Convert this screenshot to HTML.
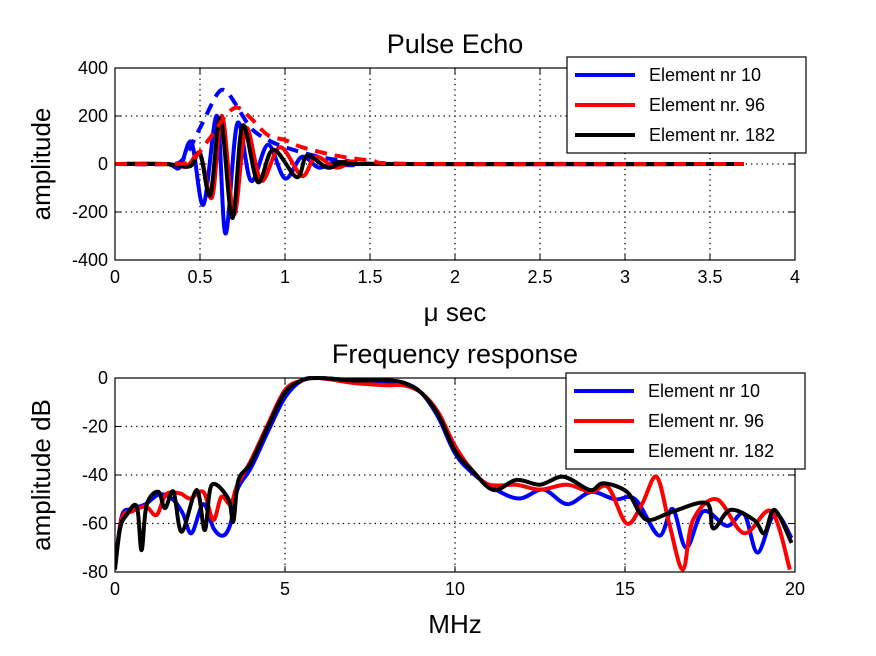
<!DOCTYPE html>
<html><head><meta charset="utf-8"><style>
body{margin:0;background:#fff;}
svg{display:block;font-family:"Liberation Sans",sans-serif;}
</style></head><body>
<svg id="chart" width="876" height="656" viewBox="0 0 876 656"></svg>
<script>
// ---- Pulse echo data (time µs, amplitude) ----
const blueT=[0,0.3,0.38,0.45,0.52,0.6,0.65,0.72,0.8,0.9,1.0,1.1,1.2,1.3,1.4,1.5,3.7];
const blueA=[0,0,-15,90,-170,200,-290,170,-70,80,-60,30,-15,10,-5,0,0];
const redT=[0,0.3,0.42,0.5,0.57,0.63,0.7,0.77,0.86,0.97,1.1,1.18,1.3,1.4,1.5,3.7];
const redA=[0,0,-10,40,-140,200,-210,150,-70,70,-50,30,-15,10,0,0];
const blackT=[0,0.3,0.44,0.5,0.56,0.62,0.69,0.75,0.84,0.93,1.07,1.13,1.25,1.35,1.5,3.7];
const blackA=[0,0,-10,45,-130,190,-225,160,-75,60,-55,35,-15,8,0,0];
const blueEnvT=[0,0.3,0.4,0.5,0.6,0.65,0.7,0.8,0.9,1.0,1.2,1.4,1.7,3.7];
const blueEnvA=[0,0,20,150,290,305,260,150,100,70,30,10,0,0];
const redEnvT=[0,0.35,0.45,0.55,0.65,0.72,0.8,0.9,1.0,1.1,1.3,1.5,1.8,3.7];
const redEnvA=[0,0,15,100,200,235,190,120,100,70,35,15,0,0];
// ---- Frequency response data (MHz, dB) ----
const blackF=[0,0.15,0.34,0.64,0.78,0.93,1.27,1.47,1.72,1.96,2.4,2.64,2.84,3.33,3.48,3.63,4,4.5,5,5.5,6,7,8,8.5,9,9.5,10,10.5,11.13,11.81,12.5,13.19,13.97,14.36,15.05,15.44,15.74,16.42,17.4,17.6,18.1,18.8,19.1,19.4,19.9];
const blackDB=[-79,-62,-56.5,-53,-71,-52.4,-46.9,-53.7,-46.9,-63.4,-46.2,-62.7,-44.2,-49.7,-59.3,-42.2,-35,-20,-6,-1,0,-1,-1,-2,-6,-15,-30,-38,-46.2,-42,-44,-40.7,-46.2,-43.4,-46.9,-55.8,-58.6,-55,-51.6,-62,-54.4,-58.6,-64,-54.4,-68];
const redF=[0,0.2,0.5,0.9,1.22,1.5,1.91,2.21,2.6,2.89,3.13,3.4,3.6,4,4.5,5,5.5,6,7,8,8.5,9,9.5,10,10.5,11,11.8,12.5,13.3,14,14.5,15.05,15.5,15.93,16.3,16.7,17,17.7,18.5,19.3,19.85];
const redDB=[-78,-58,-55,-53,-56.5,-48,-47.6,-49.7,-47,-58.6,-49,-52,-44,-34,-19,-5,-1,0,-2,-3,-3,-6,-14,-28,-38,-44,-44,-46,-44,-47,-45,-60,-52,-40.7,-60,-79,-58.6,-50,-64,-55,-79];
const blueF=[0,0.2,0.5,0.9,1.3,1.7,2.0,2.25,2.6,2.9,3.18,3.4,3.6,4,4.5,5,5.5,6,7,8,8.5,9,9.5,10,10.5,11.2,11.9,12.6,13.3,14,14.7,15.3,16,16.4,16.8,17.3,18,18.5,18.9,19.4,19.9];
const blueDB=[-78,-57,-54,-52,-48,-50,-56,-64,-52,-62,-65,-60,-46,-37,-22,-8,-1,0,-1,-2,-2,-6,-16,-31,-39,-46,-49.7,-46,-52,-47,-50,-50,-65,-54,-70,-55,-61,-56,-72,-56,-66];

const svg=document.getElementById('chart');
const NS='http://www.w3.org/2000/svg';
function el(tag,attrs,parent){const e=document.createElementNS(NS,tag);for(const k in attrs)e.setAttribute(k,attrs[k]);(parent||svg).appendChild(e);return e;}
function pathFrom(xs,ys,sx,sy){
  const p=xs.map((x,i)=>[sx(x),sy(ys[i])]);
  let d='M'+p[0][0].toFixed(1)+','+p[0][1].toFixed(1);
  for(let i=0;i<p.length-1;i++){
    const p0=p[Math.max(0,i-1)],p1=p[i],p2=p[i+1],p3=p[Math.min(p.length-1,i+2)];
    const c1=[p1[0]+(p2[0]-p0[0])/6,p1[1]+(p2[1]-p0[1])/6];
    const c2=[p2[0]-(p3[0]-p1[0])/6,p2[1]-(p3[1]-p1[1])/6];
    d+=' C'+c1.map(v=>v.toFixed(1))+' '+c2.map(v=>v.toFixed(1))+' '+p2.map(v=>v.toFixed(1));
  }
  return d;
}
function axes(cfg){
  const g=el('g',{});
  
  
  const {x0,x1,y0,y1,xmin,xmax,ymin,ymax}=cfg;
  const sx=v=>x0+(v-xmin)/(xmax-xmin)*(x1-x0);
  const sy=v=>y1-(v-ymin)/(ymax-ymin)*(y1-y0);
  el('rect',{x:x0,y:y0,width:x1-x0,height:y1-y0,fill:'#fff'},g);
  cfg.xticks.forEach((t,i)=>{
    const x=sx(t);
    if(i>0&&i<cfg.xticks.length-1){
      const gl=el('line',{x1:x,x2:x,y1:y0,y2:y1,stroke:'#000','stroke-width':1.3,'stroke-dasharray':'1.3,4'},g);
      
      
    }
    el('line',{x1:x,x2:x,y1:y1,y2:y1-6,stroke:'#000'},g);
    el('line',{x1:x,x2:x,y1:y0,y2:y0+6,stroke:'#000'},g);
    const tx=el('text',{x:x,y:y1+23,'font-size':18,'text-anchor':'middle'},g);
    tx.textContent=cfg.xlabels[i];
    
    
  });
  cfg.yticks.forEach((t,i)=>{
    const y=sy(t);
    if(i>0&&i<cfg.yticks.length-1){
      const gl=el('line',{x1:x0,x2:x1,y1:y,y2:y,stroke:'#000','stroke-width':1.3,'stroke-dasharray':'1.3,4'},g);
      
      
    }
    el('line',{x1:x0,x2:x0+6,y1:y,y2:y,stroke:'#000'},g);
    el('line',{x1:x1,x2:x1-6,y1:y,y2:y,stroke:'#000'},g);
    const tx=el('text',{x:x0-7,y:y+6,'font-size':18,'text-anchor':'end'},g);
    tx.textContent=cfg.ylabels[i];
    
    
  });
  const lines=el('g',{'clip-path':'url(#'+cfg.clip+')'},g);
  const cp=el('clipPath',{id:cfg.clip},g);
  el('rect',{x:x0,y:y0-2,width:x1-x0,height:y1-y0+4},cp);
  cfg.series.forEach(s=>{
    const p=el('path',{d:pathFrom(s.x,s.y,sx,sy),fill:'none',stroke:s.color,'stroke-width':4,'stroke-linejoin':'round','stroke-dasharray':s.dash||'none'},lines);
    
    
  });
  el('rect',{x:x0,y:y0,width:x1-x0,height:y1-y0,fill:'none',stroke:'#000','stroke-width':1.2},g);
  const tt=el('text',{x:(x0+x1)/2,y:y0-15,'font-size':27,'text-anchor':'middle'},g);
  tt.textContent=cfg.title;
  
  
  const xl=el('text',{x:(x0+x1)/2,y:y1+61,'font-size':26,'text-anchor':'middle'},g);
  xl.textContent=cfg.xlabel;
  
  
  const yl=el('text',{x:0,y:0,'font-size':26,'text-anchor':'middle',transform:'translate('+cfg.ylx+','+((y0+y1)/2)+') rotate(-90)'},g);
  yl.textContent=cfg.ylabel;
  
  
  // legend
  const lg=el('g',{},g);
  
  
  el('rect',{x:cfg.lx,y:cfg.ly,width:239,height:96,fill:'#fff',stroke:'#000','stroke-width':1.2},lg);
  [['#0000ff','Element nr 10'],['#ff0000','Element nr. 96'],['#000','Element nr. 182']].forEach((e,i)=>{
    const yy=cfg.ly+18+i*30;
    const en=el('g',{},lg);
    
    
    el('line',{x1:cfg.lx+8,x2:cfg.lx+68,y1:yy,y2:yy,stroke:e[0],'stroke-width':4},en);
    const t=el('text',{x:cfg.lx+82,y:yy+6,'font-size':18},en);
    t.textContent=e[1];
  });
}
axes({name:'pulse-echo-axes',clip:'c1',x0:115,x1:795,y0:68,y1:260,xmin:0,xmax:4,ymin:-400,ymax:400,
  xticks:[0,0.5,1,1.5,2,2.5,3,3.5,4],xlabels:['0','0.5','1','1.5','2','2.5','3','3.5','4'],
  yticks:[-400,-200,0,200,400],ylabels:['-400','-200','0','200','400'],
  title:'Pulse Echo',xlabel:'\u03bc sec',ylabel:'amplitude',ylx:50,lx:567,ly:57,
  series:[
    {x:blueT,y:blueA,color:'#0000ff',name:'blue-pulse'},
    {x:blueEnvT,y:blueEnvA,color:'#0000ff',dash:'12,8',name:'blue-envelope'},
    {x:redT,y:redA,color:'#ff0000',name:'red-pulse'},
    {x:blackT,y:blackA,color:'#000',name:'black-pulse'},
    {x:redEnvT,y:redEnvA,color:'#ff0000',dash:'12,8',name:'red-envelope'}
  ]});
axes({name:'frequency-axes',clip:'c2',x0:115,x1:795,y0:378,y1:572,xmin:0,xmax:20,ymin:-80,ymax:0,
  xticks:[0,5,10,15,20],xlabels:['0','5','10','15','20'],
  yticks:[-80,-60,-40,-20,0],ylabels:['-80','-60','-40','-20','0'],
  title:'Frequency response',xlabel:'MHz',ylabel:'amplitude dB',ylx:50,lx:566,ly:373,
  series:[
    {x:blueF,y:blueDB,color:'#0000ff',name:'blue-spectrum'},
    {x:redF,y:redDB,color:'#ff0000',name:'red-spectrum'},
    {x:blackF,y:blackDB,color:'#000',name:'black-spectrum'}
  ]});
</script>
</body></html>
